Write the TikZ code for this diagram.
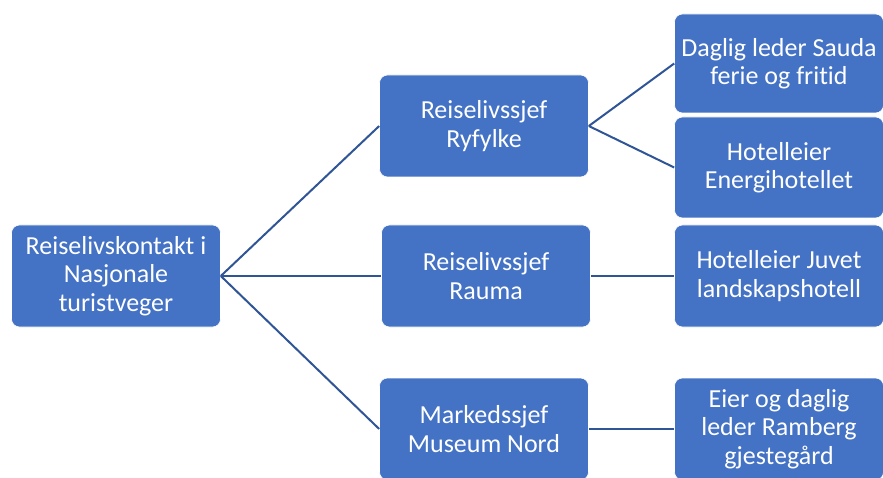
\documentclass[tikz,border=0pt]{standalone}
\usepackage{fontspec}
\setmainfont{Carlito}[Ligatures=NoCommon]
\definecolor{boxblue}{RGB}{68, 114, 196}
\definecolor{linkblue}{RGB}{47, 85, 151}

\begin{document}
\begin{tikzpicture}[
    x=1pt, y=-1pt,
    % Node Styles
    orgbox/.style={rectangle, rounded corners=8pt, draw=white, line width=0.6pt, fill=boxblue,
        text=white, align=center, inner sep=0pt, minimum width=209pt, minimum height=102pt,
        font=\fontsize{26}{28.5}\selectfont},
    % Edge Styles
    link/.style={draw=linkblue, line width=2pt}
]
\useasboundingbox (0,0) rectangle (883,478);

% Level 0
\node[orgbox] (root) at (116, 276) {Reiselivskontakt i\\Nasjonale\\turistveger};

% Level 1
\node[orgbox] (ryfylke) at (484, 126) {Reiselivssjef\\Ryfylke};
\node[orgbox] (rauma) at (486, 276) {Reiselivssjef\\Rauma};
\node[orgbox] (museum) at (484, 429) {Markedssjef\\Museum Nord};

% Level 2
\node[orgbox, minimum height=99pt] (sauda) at (779, 63.5) {Daglig leder Sauda\\ferie og fritid};
\node[orgbox, minimum height=101pt] (energi) at (779, 167.5) {Hotelleier\\Energihotellet};
\node[orgbox] (juvet) at (779, 276) {Hotelleier Juvet\\landskapshotell};
\node[orgbox] (ramberg) at (779, 429) {Eier og daglig\\leder Ramberg\\gjestegård};

% Connectors
\foreach \n in {ryfylke, rauma, museum} {
    \draw[link] (root.east) -- (\n.west);
}
\draw[link] (ryfylke.east) -- (sauda.west);
\draw[link] (ryfylke.east) -- (energi.west);
\draw[link] (rauma.east) -- (juvet.west);
\draw[link] (museum.east) -- (ramberg.west);

\end{tikzpicture}
\end{document}
